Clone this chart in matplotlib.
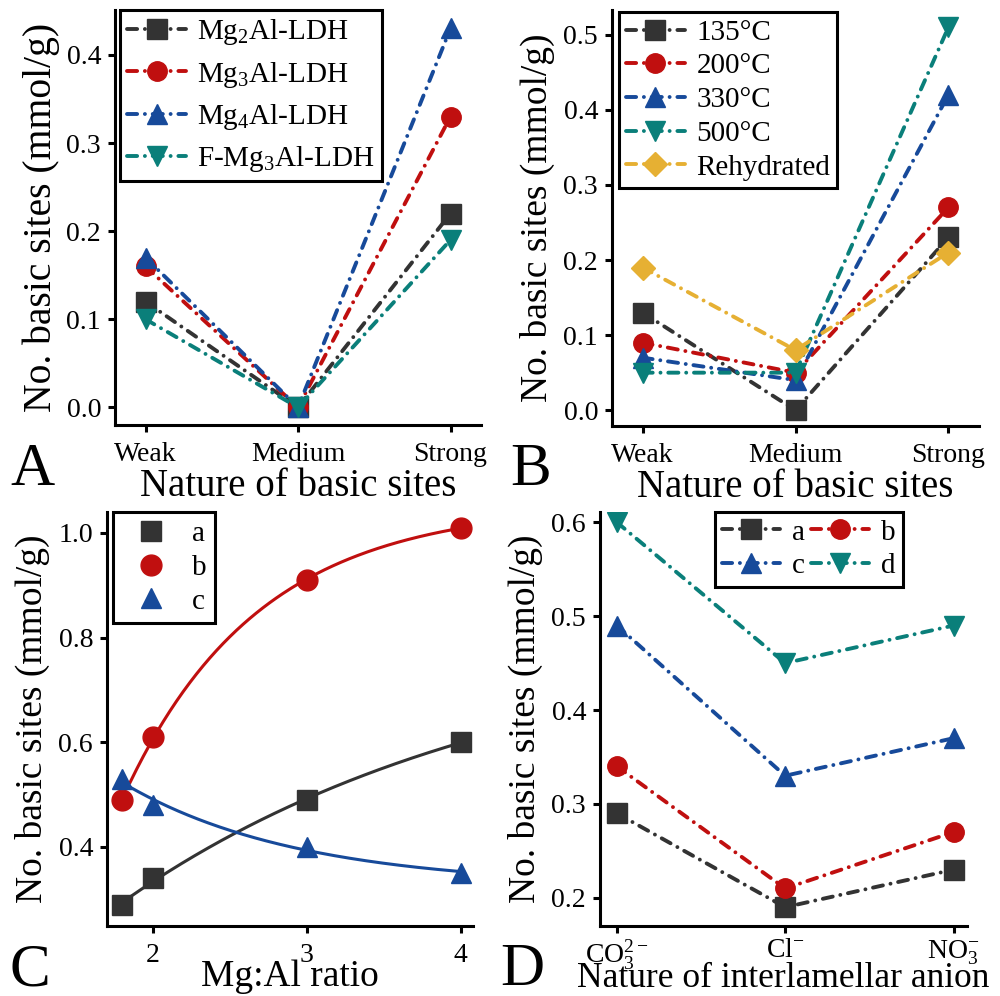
import numpy as np
import matplotlib
matplotlib.use('Agg')
from matplotlib import pyplot as plt

plt.rcParams['font.family'] = ['Liberation Serif', 'DejaVu Serif']
plt.rcParams['mathtext.fontset'] = 'custom'
plt.rcParams['mathtext.rm'] = 'Liberation Serif'
plt.rcParams['mathtext.it'] = 'Liberation Serif:italic'
plt.rcParams['mathtext.bf'] = 'Liberation Serif:bold'

# data
sites = ['Weak', 'Medium', 'Strong']
a_labels = ['Mg$_2$Al-LDH', 'Mg$_3$Al-LDH', 'Mg$_4$Al-LDH', 'F-Mg$_3$Al-LDH']
a_mg2 = [0.12, 0.0, 0.22]
a_mg3 = [0.16, 0.0, 0.33]
a_mg4 = [0.17, 0.0, 0.43]
a_fmg3 = [0.10, 0.0, 0.19]

b_labels = ['135°C', '200°C', '330°C', '500°C', 'Rehydrated']
b_135 = [0.13, 0.0, 0.23]
b_200 = [0.09, 0.05, 0.27]
b_330 = [0.07, 0.04, 0.42]
b_500 = [0.05, 0.05, 0.51]
b_rehyd = [0.19, 0.08, 0.21]

c_ratio = [1.8, 2, 3, 4]
c_a = [0.29, 0.34, 0.49, 0.60]
c_b = [0.49, 0.61, 0.91, 1.01]
c_c = [0.53, 0.48, 0.40, 0.35]

anions = ['CO$_3^{2-}$', 'Cl$^{-}$', 'NO$_3^{-}$']
d_a = [0.29, 0.19, 0.23]
d_b = [0.34, 0.21, 0.27]
d_c = [0.49, 0.33, 0.37]
d_d = [0.60, 0.45, 0.49]

BLACK = '#333333'
RED = '#c00f0f'
BLUE = '#174a9a'
TEAL = '#0a7f7a'
GOLD = '#e6b033'

LW = 2.8
DASH = (0, (2.6, 2.0, 0.01, 2.0))
TICK_FS = 20
LAB_FS = 27
LEG_FS = 21

fig = plt.figure(figsize=(10, 9.96), dpi=100)
axA = fig.add_axes([0.115, 0.5733, 0.366, 0.4167])
axB = fig.add_axes([0.612, 0.5723, 0.367, 0.4177])
axC = fig.add_axes([0.107, 0.0703, 0.366, 0.4157])
axD = fig.add_axes([0.600, 0.0703, 0.367, 0.4157])


def style(ax):
    for s in ['top', 'right']:
        ax.spines[s].set_visible(False)
    for s in ['left', 'bottom']:
        ax.spines[s].set_linewidth(2.2)
    ax.tick_params(direction='out', length=5, width=2.2, labelsize=TICK_FS, pad=5)
    ax.tick_params(axis='x', pad=7)


def dline(ax, y, color, marker, label, ms=14):
    ax.plot(range(len(y)), y, color=color, lw=LW, linestyle=DASH,
            dash_capstyle='round', marker=marker, ms=ms, label=label)


# A
x = range(3)
dline(axA, a_mg2, BLACK, 's', a_labels[0])
dline(axA, a_mg3, RED, 'o', a_labels[1])
dline(axA, a_mg4, BLUE, '^', a_labels[2])
dline(axA, a_fmg3, TEAL, 'v', a_labels[3])
axA.set_xlim(-0.2, 2.2)
axA.set_ylim(-0.02, 0.451)
axA.set_yticks([0.0, 0.1, 0.2, 0.3, 0.4])
axA.set_yticklabels(['0.0', '0.1', '0.2', '0.3', '0.4'])
axA.set_xticks(list(x))
axA.set_xticklabels(sites)

# B
dline(axB, b_135, BLACK, 's', b_labels[0])
dline(axB, b_200, RED, 'o', b_labels[1])
dline(axB, b_330, BLUE, '^', b_labels[2])
dline(axB, b_500, TEAL, 'v', b_labels[3])
dline(axB, b_rehyd, GOLD, 'D', b_labels[4], ms=12)
axB.set_xlim(-0.2, 2.2)
axB.set_ylim(-0.021, 0.533)
axB.set_yticks([0.0, 0.1, 0.2, 0.3, 0.4, 0.5])
axB.set_yticklabels(['0.0', '0.1', '0.2', '0.3', '0.4', '0.5'])
axB.set_xticks(list(x))
axB.set_xticklabels(sites)


# C: exponential fit y = A + B*exp(-k x) to each series
def expfit(xs, ys, x0):
    xs = np.asarray(xs, float)
    ys = np.asarray(ys, float)
    best = None
    for k in np.linspace(0.05, 3, 300):
        M = np.column_stack([np.ones_like(xs), np.exp(-k * xs)])
        coef = np.linalg.lstsq(M, ys, rcond=None)[0]
        err = np.sum((M @ coef - ys) ** 2)
        if best is None or err < best[0]:
            best = (err, k, coef)
    _, k, coef = best
    xx = np.linspace(x0, xs.max(), 200)
    return xx, coef[0] + coef[1] * np.exp(-k * xx)


for ys, col in [(c_a, BLACK), (c_b, RED), (c_c, BLUE)]:
    xx, yy = expfit(c_ratio, ys, 1.85)
    axC.plot(xx, yy, color=col, lw=2.2)
axC.plot(c_ratio, c_a, 's', color=BLACK, ms=14, label='a')
axC.plot(c_ratio, c_b, 'o', color=RED, ms=15, label='b')
axC.plot(c_ratio, c_c, '^', color=BLUE, ms=15, label='c')
axC.set_xlim(1.70, 4.08)
axC.set_ylim(0.249, 1.04)
axC.set_xticks([2, 3, 4])
axC.set_yticks([0.4, 0.6, 0.8, 1.0])
axC.set_yticklabels(['0.4', '0.6', '0.8', '1.0'])

# D
dline(axD, d_a, BLACK, 's', 'a')
dline(axD, d_b, RED, 'o', 'b')
dline(axD, d_c, BLUE, '^', 'c')
dline(axD, d_d, TEAL, 'v', 'd')
axD.set_xlim(-0.1, 2.08)
axD.set_ylim(0.170, 0.611)
axD.set_yticks([0.2, 0.3, 0.4, 0.5, 0.6])
axD.set_yticklabels(['0.2', '0.3', '0.4', '0.5', '0.6'])
axD.set_xticks(list(x))
axD.set_xticklabels(anions)

for ax in [axA, axB, axC, axD]:
    style(ax)
    ax.set_ylabel('No. basic sites (mmol/g)', fontsize=LAB_FS, labelpad=6)
axA.set_ylabel('No. basic sites (mmol/g)', fontsize=28.5, labelpad=5)
axD.tick_params(axis='x', pad=4)

axA.set_xlabel('Nature of basic sites', fontsize=28, labelpad=1)
axB.set_xlabel('Nature of basic sites', fontsize=28, labelpad=1)
axC.set_xlabel('Mg:Al ratio', fontsize=LAB_FS, labelpad=-6)
axD.set_xlabel('Nature of interlamellar anion', fontsize=25.5, labelpad=-7)

leg_kw = dict(fontsize=LEG_FS, fancybox=False, edgecolor='black', framealpha=1,
              borderpad=0.25, borderaxespad=0, handletextpad=0.4)
lg = axA.legend(loc='upper left', bbox_to_anchor=(0.014, 1.0), handlelength=2.0,
                labelspacing=0.42, **leg_kw)
lg.get_frame().set_linewidth(2.2)
lg = axB.legend(loc='upper left', bbox_to_anchor=(0.019, 0.995), handlelength=2.0,
                labelspacing=0.25, **leg_kw)
lg.get_frame().set_linewidth(2.2)
lg = axC.legend(loc='upper left', bbox_to_anchor=(0.016, 1.0), handlelength=2.0,
                labelspacing=0.25, handletextpad=0.4, borderpad=0.3, borderaxespad=0,
                fontsize=LEG_FS, fancybox=False, edgecolor='black', framealpha=1)
lg.get_frame().set_linewidth(2.2)
h, l = axD.get_legend_handles_labels()
order = [0, 2, 1, 3]
lg = axD.legend([h[i] for i in order], [l[i] for i in order], ncol=2,
                loc='upper left', bbox_to_anchor=(0.313, 1.0), handlelength=2.0,
                labelspacing=0.25, columnspacing=0.2, **leg_kw)
lg.get_frame().set_linewidth(2.2)

fig.text(0.010, 1 - 485 / 996, 'A', fontsize=44, va='baseline')
fig.text(0.510, 1 - 485 / 996, 'B', fontsize=44, va='baseline')
fig.text(0.010, 1 - 985 / 996, 'C', fontsize=44, va='baseline')
fig.text(0.500, 1 - 985 / 996, 'D', fontsize=44, va='baseline')

fig.savefig('out.png', dpi=100)
